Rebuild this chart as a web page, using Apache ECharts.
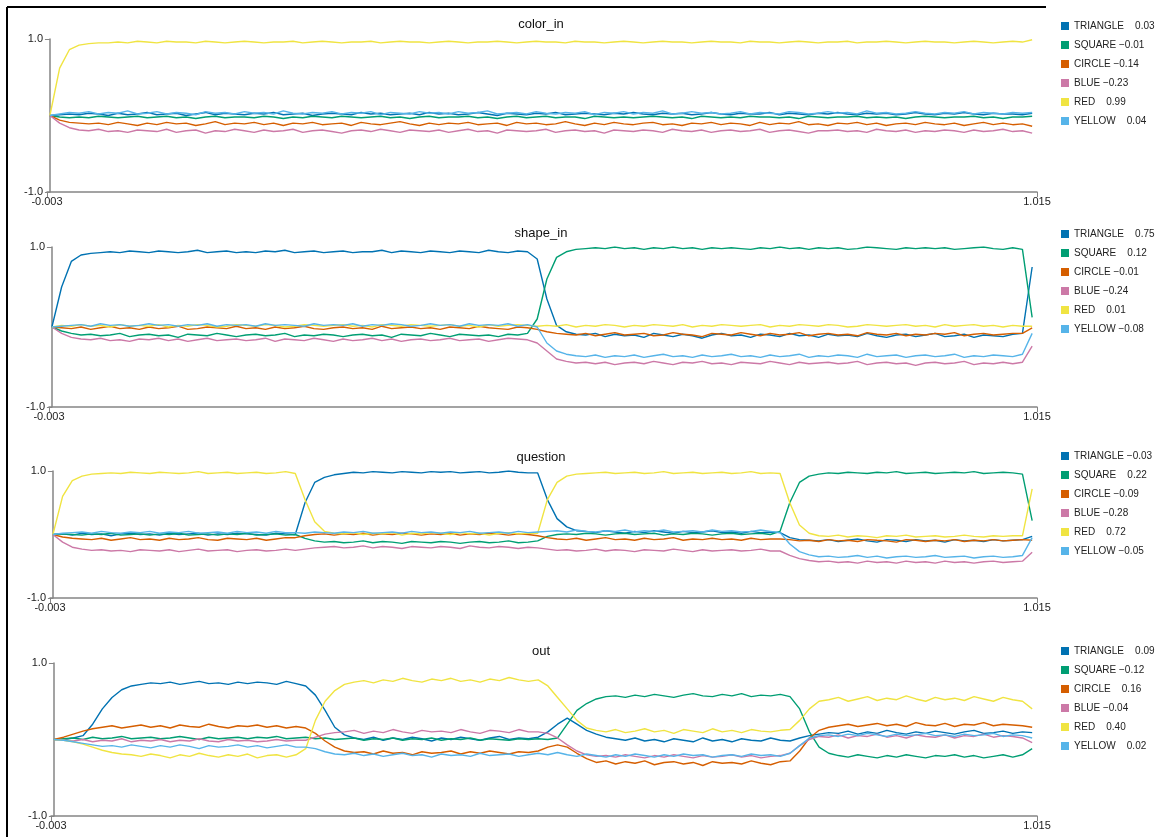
<!DOCTYPE html>
<html><head><meta charset="utf-8">
<script src="https://cdn.jsdelivr.net/npm/echarts@6/dist/echarts.min.js"></script>
<style>html,body{margin:0;padding:0;background:#fff}#c{width:1160px;height:837px}</style>
</head><body><div id="c"></div>
<script>
// ---------- data ----------
const SERIES_NAMES = ['TRIANGLE','SQUARE','CIRCLE','BLUE','RED','YELLOW'];
const PANEL_TITLES = ['color_in','shape_in','question','out'];
const X_TICKS = [-0.003, 1.015];
const Y_MIN = -1, Y_MAX = 1;
const LEGEND_VALUES = [
  [0.03, -0.01, -0.14, -0.23, 0.99, 0.04],
  [0.75, 0.12, -0.01, -0.24, 0.01, -0.08],
  [-0.03, 0.22, -0.09, -0.28, 0.72, -0.05],
  [0.09, -0.12, 0.16, -0.04, 0.40, 0.02]
];
// sampling times (uniform grid, step 0.01 from 0)
const N_SAMPLES = 102, T_STEP = 0.01;
const TIMES = Array.from({length: N_SAMPLES}, (_, i) => Math.round(i * T_STEP * 1000) / 1000);

// ---- panel 1: color_in ----
const P1_TRIANGLE = [0,.01,.02,.01,.03,.02,0,.03,.01,.02, .04,.01,.02,.03,0,.02,.04,.01,.03,.02, .01,.03,.02,.04,.01,.02,.03,0,.02,.03, .02,.01,.04,.02,.03,.01,.02,.03,.01,.04, .02,.03,.01,.02,.04,.02,0,.03,.02,.01, .03,.02,.04,.01,.02,.03,.02,.01,.03,.02, .04,.02,.01,.03,.02,.03,.01,.02,.04,.02, .01,.03,.02,.02,.04,.01,.03,.02,.01,.03, .02,.04,.02,.01,.03,.02,.03,.01,.02,.04, .02,.01,.03,.02,.04,.02,.01,.03,.02,.02, .01,.03];
const P1_SQUARE = [0,-.02,-.03,-.02,-.03,-.01,-.02,-.03,-.02,-.01, -.03,-.02,-.01,-.03,-.02,-.04,-.02,-.01,-.03,-.02, -.02,-.03,-.01,-.02,-.04,-.02,-.03,-.01,-.02,-.03, -.01,-.02,-.03,-.02,-.01,-.03,-.02,-.04,-.02,-.01, -.03,-.02,-.02,-.01,-.03,-.02,-.04,-.02,-.01,-.03, -.02,-.01,-.03,-.02,-.02,-.04,-.01,-.02,-.03,-.02, -.03,-.02,-.01,-.02,-.03,-.02,-.04,-.01,-.02,-.03, -.02,-.03,-.01,-.02,-.02,-.03,-.02,-.04,-.01,-.02, -.03,-.02,-.02,-.01,-.03,-.02,-.03,-.02,-.04,-.02, -.01,-.02,-.03,-.02,-.02,-.01,-.03,-.02,-.04,-.02, -.02,-.01];
const P1_CIRCLE = [0,-.06,-.09,-.1,-.11,-.1,-.12,-.09,-.11,-.13, -.1,-.12,-.09,-.11,-.1,-.13,-.11,-.08,-.12,-.1, -.11,-.09,-.12,-.1,-.13,-.1,-.11,-.09,-.12,-.11, -.1,-.13,-.09,-.11,-.12,-.1,-.08,-.11,-.13,-.1, -.12,-.1,-.11,-.09,-.12,-.11,-.1,-.13,-.09,-.11, -.1,-.12,-.11,-.08,-.11,-.13,-.1,-.12,-.09,-.11, -.12,-.1,-.09,-.12,-.11,-.13,-.1,-.11,-.09,-.12, -.1,-.11,-.13,-.09,-.12,-.1,-.11,-.08,-.12,-.11, -.13,-.1,-.11,-.09,-.12,-.1,-.13,-.11,-.1,-.12, -.09,-.11,-.12,-.1,-.13,-.11,-.09,-.12,-.1,-.12, -.11,-.14];
const P1_BLUE = [0,-.1,-.16,-.19,-.2,-.18,-.21,-.2,-.22,-.19, -.2,-.21,-.18,-.22,-.2,-.19,-.23,-.2,-.21,-.18, -.2,-.22,-.19,-.21,-.2,-.18,-.22,-.2,-.19,-.21, -.23,-.2,-.19,-.21,-.18,-.2,-.22,-.19,-.2,-.21, -.19,-.22,-.2,-.18,-.21,-.2,-.23,-.19,-.2,-.21, -.2,-.18,-.22,-.2,-.19,-.21,-.2,-.23,-.19,-.2, -.21,-.19,-.2,-.22,-.18,-.2,-.21,-.19,-.22,-.2, -.19,-.21,-.2,-.18,-.22,-.2,-.19,-.21,-.23,-.2, -.2,-.19,-.21,-.2,-.22,-.18,-.2,-.21,-.19,-.22, -.2,-.21,-.19,-.2,-.22,-.19,-.21,-.2,-.18,-.21, -.2,-.23];
const P1_RED = [0,.62,.86,.92,.94,.95,.95,.96,.95,.97, .96,.95,.97,.96,.96,.95,.97,.96,.95,.96, .97,.96,.95,.96,.96,.97,.95,.96,.97,.96, .95,.96,.96,.97,.95,.96,.97,.96,.96,.95, .96,.97,.96,.95,.96,.96,.97,.96,.95,.96, .97,.96,.96,.95,.97,.96,.96,.95,.96,.97, .96,.95,.96,.97,.96,.96,.95,.96,.97,.96, .96,.95,.97,.96,.96,.95,.96,.97,.96,.95, .96,.96,.97,.95,.96,.96,.97,.96,.95,.96, .97,.96,.96,.95,.96,.97,.96,.95,.96,.97, .96,.99];
const P1_YELLOW = [0,.02,.04,.03,.05,.02,.04,.03,.06,.02, .03,.05,.02,.04,.03,.01,.05,.03,.04,.02, .05,.03,.04,.02,.06,.03,.02,.04,.03,.05, .02,.04,.03,.05,.01,.04,.03,.02,.05,.03, .04,.02,.05,.03,.04,.06,.02,.03,.04,.02, .05,.03,.02,.04,.03,.05,.01,.04,.03,.05, .02,.04,.03,.06,.02,.03,.05,.03,.04,.02, .03,.05,.02,.04,.03,.02,.05,.04,.02,.03, .05,.03,.04,.02,.06,.03,.04,.02,.03,.05, .03,.02,.04,.03,.05,.02,.04,.03,.02,.04, .03,.04];

// ---- panel 2: shape_in ----
const P2_TRIANGLE = [0,.5,.82,.9,.92,.93,.94,.93,.95,.94, .93,.95,.94,.93,.94,.96,.93,.94,.95,.93, .94,.93,.95,.94,.96,.93,.94,.95,.93,.94, .95,.93,.94,.94,.96,.93,.95,.94,.93,.95, .94,.93,.95,.94,.93,.96,.94,.93,.95,.94, .85,.35,.02,-.06,-.09,-.1,-.08,-.12,-.09,-.11, -.1,-.13,-.08,-.1,-.12,-.09,-.11,-.14,-.1,-.08, -.11,-.1,-.13,-.09,-.1,-.12,-.08,-.11,-.1,-.13, -.09,-.11,-.1,-.12,-.08,-.11,-.13,-.1,-.09,-.12, -.1,-.08,-.12,-.11,-.09,-.13,-.1,-.11,-.12,-.09, -.08,.75];
const P2_SQUARE = [0,-.05,-.08,-.1,-.09,-.11,-.1,-.08,-.12,-.1, -.09,-.11,-.1,-.13,-.09,-.1,-.11,-.08,-.1,-.12, -.1,-.09,-.11,-.1,-.08,-.12,-.1,-.11,-.09,-.1, -.12,-.1,-.09,-.11,-.1,-.13,-.09,-.1,-.11,-.08, -.1,-.12,-.09,-.1,-.11,-.1,-.12,-.09,-.1,-.08, .1,.6,.87,.94,.97,.98,.99,.98,1.0,.98, .99,.97,.99,.98,1.0,.98,.99,.97,.99,.98, .99,.98,.97,.99,.98,1.0,.98,.99,.97,.99, .98,.99,.97,.98,1.0,.99,.98,.97,.99,.98, .99,.98,.99,.97,.98,.99,1.0,.98,.97,.99, .97,.12];
const P2_CIRCLE = [0,-.01,-.02,0,-.03,-.01,.01,-.02,-.01,-.03, 0,-.02,-.01,.01,-.03,-.02,0,-.01,-.02,.01, -.02,-.01,-.03,0,-.02,-.01,.01,-.02,-.03,-.01, 0,-.02,-.01,-.03,.01,-.02,-.01,0,-.02,-.01, -.03,0,-.01,-.02,.01,-.01,-.02,-.03,0,-.01, -.03,-.06,-.08,-.09,-.1,-.08,-.11,-.09,-.07,-.1, -.09,-.08,-.11,-.1,-.07,-.09,-.1,-.12,-.08,-.09, -.1,-.07,-.09,-.11,-.08,-.1,-.09,-.07,-.11,-.09, -.08,-.1,-.09,-.11,-.07,-.09,-.1,-.08,-.11,-.09, -.1,-.08,-.09,-.07,-.11,-.09,-.08,-.1,-.09,-.08, -.08,-.01];
const P2_BLUE = [0,-.08,-.13,-.15,-.16,-.14,-.17,-.16,-.18,-.15, -.16,-.14,-.17,-.15,-.18,-.16,-.14,-.17,-.16,-.15, -.17,-.16,-.14,-.18,-.15,-.16,-.17,-.14,-.16,-.18, -.15,-.17,-.16,-.14,-.17,-.15,-.18,-.16,-.15,-.17, -.16,-.14,-.17,-.16,-.15,-.18,-.16,-.14,-.15,-.16, -.2,-.3,-.4,-.43,-.45,-.44,-.46,-.44,-.47,-.45, -.44,-.46,-.43,-.45,-.47,-.44,-.45,-.43,-.46,-.45, -.47,-.44,-.45,-.46,-.43,-.45,-.47,-.44,-.46,-.45, -.44,-.46,-.45,-.43,-.47,-.45,-.44,-.46,-.45,-.48, -.45,-.44,-.46,-.45,-.43,-.47,-.45,-.46,-.44,-.46, -.44,-.24];
const P2_RED = [0,.02,.01,.03,.01,.02,0,.03,.01,.02, .01,.03,0,.02,.01,.03,.02,0,.01,.03, .02,.01,.03,.02,0,.01,.03,.02,.01,.02, .03,.01,.02,0,.03,.02,.01,.03,.02,.01, .02,.03,.01,.02,0,.03,.01,.02,.03,.02, .01,.02,.01,.03,0,.02,.01,.03,.02,0, .02,.01,.03,.02,.01,.03,0,.02,.01,.03, .02,.01,.02,.03,0,.02,.01,.03,.02,.01, .03,.02,0,.01,.03,.02,.01,.02,.03,.01, .02,0,.03,.01,.02,.03,.01,.02,0,.02, .01,.01];
const P2_YELLOW = [0,.01,.02,.03,.01,.04,.02,.03,.01,.02, .04,.02,.03,.01,.03,.02,.04,.01,.03,.02, .03,.01,.04,.02,.03,.02,.01,.04,.02,.03, .02,.04,.01,.03,.02,.04,.03,.01,.02,.04, .02,.03,.01,.04,.02,.03,.02,.04,.01,.03, 0,-.2,-.3,-.34,-.36,-.37,-.35,-.38,-.36,-.37, -.35,-.38,-.36,-.34,-.37,-.36,-.38,-.35,-.37,-.36, -.34,-.37,-.36,-.38,-.35,-.37,-.36,-.34,-.38,-.36, -.37,-.35,-.36,-.38,-.34,-.37,-.36,-.35,-.38,-.36, -.35,-.37,-.36,-.34,-.38,-.36,-.37,-.35,-.36,-.37, -.34,-.08];

// ---- panel 3: question ----
const P3_TRIANGLE = [0,.01,-.01,.02,0,.01,-.02,.01,.02,0, .01,-.01,.02,0,.01,.02,-.01,.01,0,.02, .01,0,-.01,.02,.01,0,.5,.82,.9,.94, .96,.98,.97,.99,.98,.97,.99,.98,.97,.99, .98,.99,.97,.98,.99,.97,.98,1.0,.98,.97, .97,.55,.25,.12,.06,.05,.03,.06,.04,.02, .05,.03,.06,.04,.02,.05,.03,.04,.06,.03, .04,.02,.05,.03,.04,.03,-.05,-.08,-.09,-.1, -.08,-.11,-.09,-.07,-.1,-.12,-.08,-.09,-.11,-.08, -.1,-.09,-.12,-.08,-.1,-.09,-.11,-.08,-.1,-.09, -.08,-.03];
const P3_SQUARE = [0,.01,0,-.01,.01,0,.02,-.01,0,.01, -.01,.01,0,.02,-.01,0,.01,-.01,.01,0, .02,-.01,0,.01,-.01,0,-.06,-.1,-.12,-.11, -.13,-.12,-.1,-.13,-.11,-.12,-.14,-.11,-.12,-.13, -.11,-.12,-.14,-.12,-.11,-.13,-.12,-.1,-.13,-.12, -.1,-.03,0,.01,0,.02,.01,-.01,.01,.02, 0,.01,.02,-.01,.01,0,.02,.01,-.01,.01, .02,0,.01,.02,0,.05,.5,.82,.92,.95, .97,.96,.98,.97,.96,.98,.97,.99,.96,.97, .98,.96,.97,.98,.97,.99,.96,.97,.98,.97, .95,.22];
const P3_CIRCLE = [0,-.04,-.06,-.07,-.08,-.06,-.09,-.07,-.05,-.08, -.07,-.09,-.06,-.08,-.07,-.05,-.08,-.09,-.06,-.07, -.08,-.06,-.09,-.07,-.05,-.05,-.02,0,.01,-.01, .01,0,.02,-.01,.01,0,.02,.01,-.01,.01, 0,.02,-.01,.01,0,.02,.01,-.01,.01,0, -.02,-.05,-.07,-.08,-.06,-.09,-.07,-.05,-.08,-.07, -.09,-.06,-.08,-.07,-.05,-.09,-.07,-.08,-.06,-.08, -.07,-.09,-.06,-.08,-.07,-.07,-.08,-.1,-.09,-.11, -.08,-.1,-.09,-.11,-.08,-.09,-.1,-.12,-.08,-.09, -.11,-.09,-.1,-.08,-.11,-.09,-.1,-.08,-.1,-.09, -.08,-.09];
const P3_BLUE = [0,-.12,-.2,-.23,-.25,-.24,-.26,-.25,-.27,-.24, -.25,-.26,-.24,-.27,-.25,-.23,-.26,-.25,-.24,-.27, -.25,-.24,-.26,-.25,-.23,-.25,-.23,-.21,-.2,-.19, -.21,-.2,-.18,-.21,-.19,-.2,-.22,-.19,-.2,-.21, -.19,-.2,-.22,-.18,-.2,-.21,-.19,-.2,-.22,-.2, -.21,-.23,-.25,-.24,-.26,-.25,-.23,-.26,-.24,-.25, -.27,-.24,-.25,-.26,-.23,-.25,-.27,-.24,-.26,-.25, -.24,-.26,-.25,-.23,-.26,-.26,-.33,-.38,-.41,-.43, -.42,-.44,-.43,-.45,-.42,-.44,-.43,-.45,-.42,-.44, -.43,-.45,-.42,-.44,-.43,-.45,-.43,-.42,-.44,-.43, -.42,-.28];
const P3_RED = [0,.6,.85,.92,.95,.96,.97,.96,.98,.97, .96,.98,.97,.96,.97,.99,.96,.97,.98,.96, .97,.98,.96,.97,.99,.96,.55,.2,.05,.02, .01,.03,0,.02,.01,.03,-.01,.02,.01,.03, .02,0,.03,.01,.02,-.01,.02,.03,.01,.02, .02,.55,.82,.92,.95,.96,.97,.98,.96,.97, .98,.96,.97,.99,.96,.97,.98,.96,.97,.98, .96,.97,.99,.96,.97,.96,.5,.15,.02,-.02, -.03,-.01,-.04,-.02,-.03,-.05,-.02,-.03,-.01,-.04, -.03,-.02,-.04,-.03,-.01,-.03,-.04,-.02,-.03,-.02, -.02,.72];
const P3_YELLOW = [0,.02,.03,.04,.02,.05,.03,.02,.04,.03, .05,.02,.04,.03,.05,.02,.03,.04,.02,.05, .03,.04,.02,.05,.03,.03,.02,.04,.03,.02, .04,.03,.05,.02,.03,.04,.02,.05,.03,.04, .02,.04,.03,.05,.02,.03,.04,.02,.05,.03, .04,.05,.06,.04,.07,.05,.04,.06,.05,.07, .04,.06,.05,.07,.04,.05,.06,.04,.07,.05, .06,.04,.05,.07,.05,.03,-.15,-.27,-.32,-.35, -.34,-.36,-.35,-.33,-.36,-.34,-.37,-.35,-.34,-.36, -.35,-.33,-.36,-.35,-.34,-.37,-.35,-.34,-.36,-.35, -.33,-.05];

// ---- panel 4: out ----
const P4_TRIANGLE = [0,0,.02,.05,.2,.4,.55,.65,.7,.72, .74,.73,.75,.72,.74,.76,.73,.74,.72,.75, .73,.75,.74,.72,.76,.73,.7,.58,.38,.16, .06,.02,0,.03,-.01,.02,0,.03,.01,-.02, .02,0,.03,.01,-.01,.02,.04,0,.02,.01, .03,.1,.2,.28,.2,.12,.07,.03,.01,-.01, .02,-.02,0,-.03,.01,-.01,-.03,.02,-.02,0, -.03,.01,-.01,-.02,.02,-.01,-.02,.02,.05,.07, .09,.08,.11,.07,.1,.08,.12,.09,.07,.1, .08,.11,.09,.07,.1,.12,.08,.09,.11,.08, .1,.09];
const P4_SQUARE = [0,.01,.02,0,.03,.01,.02,.04,.01,.02, .03,.01,.02,.04,.02,0,.03,.01,.02,.03, .01,.03,.02,.04,.01,.02,.03,.01,.02,0, .01,.02,-.01,.01,0,.02,-.01,.01,0,.02, -.01,.01,0,.02,-.01,.01,0,-.01,.01,0, .01,0,.02,.2,.38,.47,.53,.56,.57,.55, .58,.56,.59,.57,.55,.58,.6,.57,.56,.59, .57,.6,.56,.58,.57,.59,.56,.4,.1,-.1, -.18,-.21,-.23,-.2,-.22,-.24,-.21,-.23,-.2,-.22, -.24,-.21,-.22,-.2,-.23,-.21,-.24,-.22,-.2,-.23, -.2,-.12];
const P4_CIRCLE = [0,.03,.07,.11,.14,.16,.18,.15,.17,.19, .16,.18,.15,.19,.17,.16,.2,.17,.15,.18, .17,.19,.16,.18,.15,.17,.15,.08,-.02,-.1, -.15,-.17,-.16,-.19,-.15,-.18,-.17,-.2,-.16,-.18, -.17,-.15,-.19,-.16,-.18,-.15,-.17,-.19,-.16,-.17, -.15,-.1,-.07,-.1,-.18,-.25,-.3,-.28,-.32,-.29, -.31,-.28,-.33,-.3,-.29,-.32,-.3,-.34,-.29,-.31, -.3,-.32,-.28,-.31,-.33,-.29,-.28,-.15,.02,.12, .16,.18,.2,.17,.19,.21,.18,.2,.17,.22, .19,.18,.21,.17,.2,.19,.22,.18,.2,.19, .18,.16];
const P4_BLUE = [0,-.01,-.02,0,-.03,-.01,-.02,.01,-.03,-.01, -.02,0,-.03,-.01,-.02,.01,-.02,-.03,0,-.02, -.01,-.03,-.02,0,-.02,-.01,-.01,.03,.07,.09, .1,.12,.08,.11,.09,.13,.1,.08,.12,.1, .11,.09,.13,.1,.08,.12,.11,.09,.13,.1, .1,.08,.02,-.07,-.15,-.2,-.22,-.21,-.23,-.2, -.22,-.24,-.21,-.23,-.2,-.22,-.24,-.21,-.23,-.22, -.2,-.23,-.21,-.24,-.22,-.21,-.18,-.08,0,.04, .03,.06,.02,.05,.04,.07,.03,.05,.02,.06, .04,.03,.06,.02,.05,.04,.07,.03,.05,.04, .02,-.04];
const P4_RED = [0,-.01,-.03,-.06,-.1,-.14,-.17,-.19,-.2,-.22, -.19,-.21,-.24,-.2,-.22,-.18,-.21,-.23,-.2,-.22, -.19,-.24,-.21,-.2,-.23,-.2,-.12,.25,.5,.64, .72,.75,.77,.74,.78,.76,.8,.77,.75,.79, .77,.8,.76,.78,.75,.79,.77,.81,.78,.76, .78,.7,.55,.4,.25,.15,.12,.1,.13,.09, .11,.14,.1,.12,.08,.13,.11,.09,.14,.1, .12,.09,.13,.11,.1,.12,.13,.25,.4,.5, .52,.55,.5,.53,.56,.51,.54,.52,.57,.53, .5,.55,.52,.54,.51,.56,.53,.5,.55,.52, .5,.4];
const P4_YELLOW = [0,-.01,-.03,-.05,-.07,-.09,-.08,-.1,-.07,-.09, -.11,-.08,-.1,-.07,-.09,-.12,-.08,-.1,-.09,-.07, -.1,-.08,-.11,-.09,-.07,-.1,-.1,-.12,-.16,-.19, -.2,-.18,-.21,-.19,-.22,-.2,-.18,-.21,-.2,-.23, -.19,-.21,-.2,-.22,-.18,-.21,-.2,-.19,-.22,-.2, -.18,-.2,-.17,-.2,-.22,-.19,-.21,-.23,-.2,-.22, -.19,-.21,-.23,-.2,-.22,-.19,-.21,-.2,-.23,-.21, -.2,-.22,-.19,-.21,-.2,-.22,-.18,-.08,.02,.05, .06,.04,.07,.05,.08,.06,.04,.07,.05,.06, .08,.05,.06,.04,.07,.05,.06,.08,.04,.06, .05,.02];

const PANEL_DATA = [
  [P1_TRIANGLE, P1_SQUARE, P1_CIRCLE, P1_BLUE, P1_RED, P1_YELLOW],
  [P2_TRIANGLE, P2_SQUARE, P2_CIRCLE, P2_BLUE, P2_RED, P2_YELLOW],
  [P3_TRIANGLE, P3_SQUARE, P3_CIRCLE, P3_BLUE, P3_RED, P3_YELLOW],
  [P4_TRIANGLE, P4_SQUARE, P4_CIRCLE, P4_BLUE, P4_RED, P4_YELLOW]
];

// ---------- styling / layout ----------
const COLORS = ['#0072B2','#009E73','#D55E00','#CC79A7','#F0E442','#56B4E9'];
const RIGHT_EDGE = 1037;
const LAYOUT = [
  {left: 47, top: 39,  height: 153, titleY: 24,  legendTop: 21},
  {left: 49, top: 247, height: 160, titleY: 233, legendTop: 229},
  {left: 50, top: 471, height: 127, titleY: 457, legendTop: 451},
  {left: 51, top: 663, height: 153, titleY: 651, legendTop: 646}
];
const FONT = "'Liberation Sans', Arial, sans-serif";
const AXIS_COLOR = '#858585';

function fmtLegend(name, v) {
  return v < 0 ? name + ' \u2212' + Math.abs(v).toFixed(2) : name + '    ' + v.toFixed(2);
}

const grid = [], xAxis = [], yAxis = [], legend = [], series = [], graphic = [];
LAYOUT.forEach((L, p) => {
  grid.push({left: L.left, top: L.top, width: RIGHT_EDGE - L.left, height: L.height, containLabel: false});
  xAxis.push({
    type: 'value', gridIndex: p, min: X_TICKS[0], max: X_TICKS[1],
    axisLine: {onZero: false, lineStyle: {color: AXIS_COLOR, width: 1.5}},
    axisTick: {show: true, length: 5, lineStyle: {color: AXIS_COLOR}, customValues: X_TICKS},
    axisLabel: {customValues: X_TICKS, formatter: v => v.toFixed(3), fontSize: 11, color: '#222', fontFamily: FONT, margin: 4},
    splitLine: {show: false}
  });
  yAxis.push({
    type: 'value', gridIndex: p, min: Y_MIN, max: Y_MAX, interval: 2,
    axisLine: {show: true, lineStyle: {color: AXIS_COLOR, width: 1.5}},
    axisTick: {show: true, length: 5, lineStyle: {color: AXIS_COLOR}},
    axisLabel: {formatter: v => v.toFixed(1), fontSize: 11, color: '#222', fontFamily: FONT, margin: 4},
    splitLine: {show: false}
  });
  legend.push({
    orient: 'vertical', left: 1061, top: L.legendTop, padding: 0,
    itemWidth: 8, itemHeight: 8, itemGap: 9,
    icon: 'rect', selectedMode: false, data: SERIES_NAMES,
    textStyle: {fontSize: 10, color: '#222', fontFamily: FONT},
    formatter: name => fmtLegend(name, LEGEND_VALUES[p][SERIES_NAMES.indexOf(name)])
  });
  SERIES_NAMES.forEach((name, s) => {
    series.push({
      type: 'line', name, xAxisIndex: p, yAxisIndex: p,
      data: TIMES.map((t, i) => [t, PANEL_DATA[p][s][i]]),
      showSymbol: false, symbol: 'none', color: COLORS[s],
      lineStyle: {width: 1.4, color: COLORS[s]}, animation: false, silent: true
    });
  });
  graphic.push({
    type: 'text', x: 541, y: L.titleY,
    style: {text: PANEL_TITLES[p], font: '13px ' + FONT, fill: '#111', textAlign: 'center', textVerticalAlign: 'middle'}
  });
});
graphic.push({type: 'line', shape: {x1: 7, y1: 7, x2: 7, y2: 837}, style: {stroke: '#000', lineWidth: 2}});
graphic.push({type: 'line', shape: {x1: 7, y1: 7, x2: 1046, y2: 7}, style: {stroke: '#000', lineWidth: 2}});

const chart = echarts.init(document.getElementById('c'), null, {renderer: 'canvas'});
chart.setOption({animation: false, grid, xAxis, yAxis, legend, series, graphic});
</script>
</body></html>
